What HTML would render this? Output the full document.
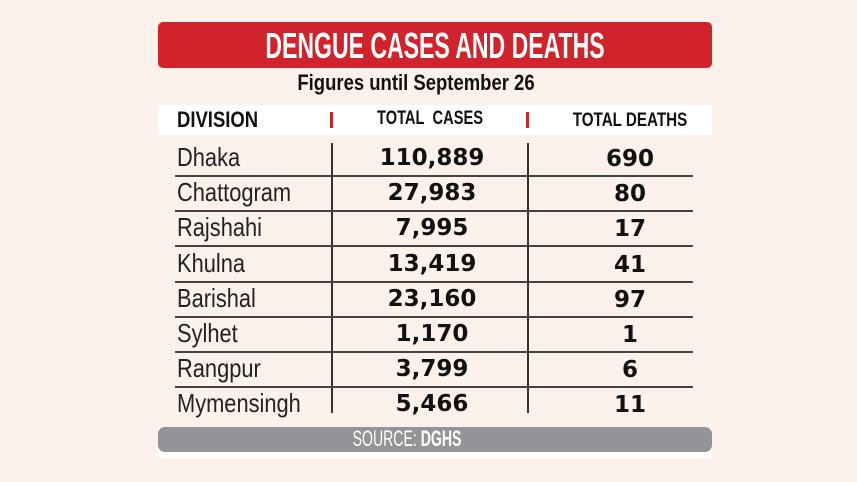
<!DOCTYPE html><html><head><style>
body{margin:0;width:857px;height:482px;background:#fdf1ec;position:relative;overflow:hidden;font-family:"Liberation Sans",sans-serif}
.a{position:absolute}
.t{position:absolute;white-space:nowrap}
.c{transform:translateX(-50%) scaleX(var(--s));transform-origin:center}
.n{font-family:"DejaVu Sans",sans-serif;font-weight:bold;font-size:23px;color:#111;transform:translateX(-50%)}
.d{font-size:26px;color:#222;left:177px;transform:scaleX(0.84);transform-origin:left}
</style></head><body>
<div class="a" style="left:158px;top:22px;width:554px;height:46px;background:#d1232c;border-radius:5px"></div>
<div class="t c" style="--s:0.64;left:435px;top:25px;color:#fff;font-weight:bold;font-size:36px">DENGUE CASES AND DEATHS</div>
<div class="t c" style="--s:0.84;left:416px;top:70px;color:#111;font-weight:bold;font-size:22px">Figures until September 26</div>
<div class="a" style="left:158px;top:105px;width:554px;height:30px;background:#fff"></div>
<div class="t" style="left:177px;top:107px;font-weight:bold;font-size:22px;color:#111;transform:scaleX(0.84);transform-origin:left">DIVISION</div>
<div class="t c" style="--s:0.77;left:430px;top:108px;font-weight:bold;font-size:19px;color:#111">TOTAL&nbsp; CASES</div>
<div class="t c" style="--s:0.8;left:630px;top:110px;font-weight:bold;font-size:19px;color:#111">TOTAL DEATHS</div>
<div class="a" style="left:330px;top:112px;width:3px;height:16px;background:#d1232c"></div>
<div class="a" style="left:526px;top:112px;width:3px;height:16px;background:#d1232c"></div>
<div class="a" style="left:331px;top:143px;width:2px;height:270px;background:#333"></div>
<div class="a" style="left:527px;top:143px;width:2px;height:270px;background:#333"></div>
<div id="rows"></div>
<div class="a" style="left:158px;top:428px;width:554px;height:30px;background:#fff"></div>
<div class="a" style="left:158px;top:427px;width:554px;height:25px;background:#929497;border-radius:7px"></div>
<div class="t c" style="--s:0.64;left:407px;top:426px;color:#fff;font-size:22px">SOURCE: <b>DGHS</b></div>
<script>
var r=[["Dhaka","110,889","690"],["Chattogram","27,983","80"],["Rajshahi","7,995","17"],["Khulna","13,419","41"],["Barishal","23,160","97"],["Sylhet","1,170","1"],["Rangpur","3,799","6"],["Mymensingh","5,466","11"]];
var h="";r.forEach(function(x,i){var y=143+i*35.2;
h+='<div class="t d" style="top:'+(y-1)+'px">'+x[0]+'</div>';
h+='<div class="t n" style="left:432px;top:'+(y+2)+'px">'+x[1]+'</div>';
h+='<div class="t n" style="left:630px;top:'+(y+3)+'px">'+x[2]+'</div>';
if(i<7)h+='<div class="a" style="left:175px;top:'+(y+32)+'px;width:518px;height:2px;background:#444"></div>';});
document.getElementById("rows").innerHTML=h;
</script>
</body></html>
